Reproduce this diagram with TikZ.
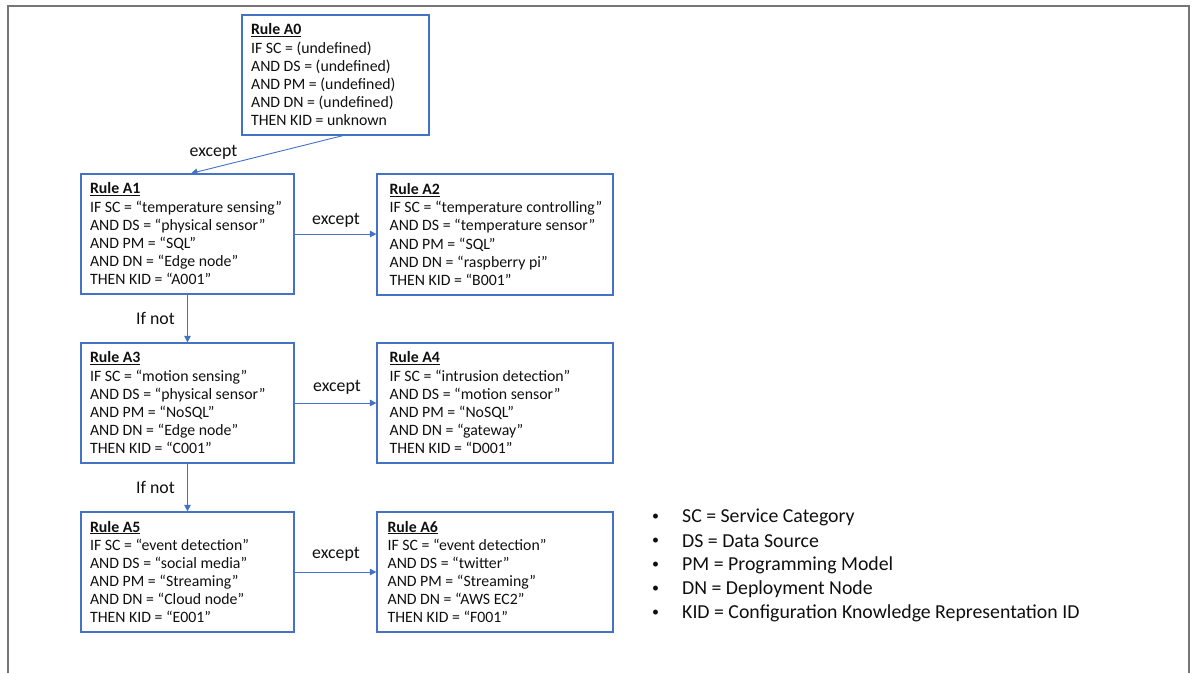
\documentclass[tikz,border=0pt]{standalone}
\usepackage{fontspec}
\setmainfont{Carlito}
\usetikzlibrary{arrows.meta}

\definecolor{officeblue}{RGB}{68,114,196}
\definecolor{framegray}{RGB}{118,118,118}
\definecolor{textblack}{RGB}{15,15,15}

\tikzset{
  rulebox/.style={draw=officeblue, line width=1.2pt, rectangle, inner sep=0pt},
  ruletext/.style={anchor=west, align=left, inner sep=0pt, text=textblack,
    font=\fontsize{15.8}{18.2}\selectfont},
  arr/.style={draw=officeblue, line width=0.9pt,
    -{Triangle[width=6.5pt,length=6.5pt]}},
  edgelabel/.style={inner sep=0pt, text=textblack,
    font=\fontsize{17.8}{20}\selectfont},
  legendtext/.style={anchor=west, inner sep=0pt, text=textblack,
    font=\fontsize{19.8}{23}\selectfont},
  bulletmark/.style={inner sep=0pt, text=textblack,
    font=\fontsize{14}{16}\selectfont},
  frame/.style={draw=framegray, line width=2pt}
}

\newcommand{\ruletitle}[1]{\underline{\textbf{#1}}}

\begin{document}
\begin{tikzpicture}[x=1pt, y=-1pt]
  \useasboundingbox (0,0) rectangle (1192,673);

  % open frame around the figure
  \draw[frame] (8,673) -- (8,6) -- (1189,6) -- (1189,673);

  % rule boxes
  \node[rulebox, minimum width=187pt, minimum height=120pt] (a0) at (335.5,75) {};
  \node[rulebox, minimum width=213pt, minimum height=120pt] (a1) at (187.5,234) {};
  \node[rulebox, minimum width=236pt, minimum height=121pt] (a2) at (495,234.5) {};
  \node[rulebox, minimum width=213pt, minimum height=120pt] (a3) at (187.5,403) {};
  \node[rulebox, minimum width=236pt, minimum height=120pt] (a4) at (495,403) {};
  \node[rulebox, minimum width=213pt, minimum height=120pt] (a5) at (187.5,572) {};
  \node[rulebox, minimum width=236pt, minimum height=120pt] (a6) at (495,572) {};

  % rule texts
  \node[ruletext] (t0) at ([xshift=9.5pt]a0.west) {\ruletitle{Rule A0}\\
    IF SC = (undefined)\\
    AND DS = (undefined)\\
    AND PM = (undefined)\\
    AND DN = (undefined)\\
    THEN KID = unknown};
  \node[ruletext] (t1) at ([xshift=9.5pt]a1.west) {\ruletitle{Rule A1}\\
    IF SC = “temperature sensing”\\
    AND DS = “physical sensor”\\
    AND PM = “SQL”\\
    AND DN = “Edge node”\\
    THEN KID = “A001”};
  \node[ruletext] (t2) at ([xshift=13pt]a2.west) {\ruletitle{Rule A2}\\
    IF SC = “temperature controlling”\\
    AND DS = “temperature sensor”\\
    AND PM = “SQL”\\
    AND DN = “raspberry pi”\\
    THEN KID = “B001”};
  \node[ruletext] (t3) at ([xshift=9.5pt]a3.west) {\ruletitle{Rule A3}\\
    IF SC = “motion sensing”\\
    AND DS = “physical sensor”\\
    AND PM = “NoSQL”\\
    AND DN = “Edge node”\\
    THEN KID = “C001”};
  \node[ruletext] (t4) at ([xshift=13pt]a4.west) {\ruletitle{Rule A4}\\
    IF SC = “intrusion detection”\\
    AND DS = “motion sensor”\\
    AND PM = “NoSQL”\\
    AND DN = “gateway”\\
    THEN KID = “D001”};
  \node[ruletext] (t5) at ([xshift=9.5pt]a5.west) {\ruletitle{Rule A5}\\
    IF SC = “event detection”\\
    AND DS = “social media”\\
    AND PM = “Streaming”\\
    AND DN = “Cloud node”\\
    THEN KID = “E001”};
  \node[ruletext] (t6) at ([xshift=11pt]a6.west) {\ruletitle{Rule A6}\\
    IF SC = “event detection”\\
    AND DS = “twitter”\\
    AND PM = “Streaming”\\
    AND DN = “AWS EC2”\\
    THEN KID = “F001”};

  % connectors
  \draw[arr] ([xshift=7.5pt]a0.south) -- ([xshift=3.5pt]a1.north);
  \draw[arr] (a1.east) -- (a1.east -| a2.west);
  \draw[arr] (a1.south) -- (a3.north);
  \draw[arr] (a3.east) -- (a4.west);
  \draw[arr] (a3.south) -- (a5.north);
  \draw[arr] (a5.east) -- (a6.west);

  % connector labels
  \node[edgelabel] (l0) at (213.5,152) {except};
  \node[edgelabel] (l1) at (336,220) {except};
  \node[edgelabel] (l2) at (155.5,318) {If not};
  \node[edgelabel] (l3) at (337,387) {except};
  \node[edgelabel] (l4) at (155.5,487) {If not};
  \node[edgelabel] (l5) at (336,554) {except};

  % abbreviations
  \foreach \y/\txt [count=\i] in {517/SC = Service Category,
      541/DS = Data Source,
      565/PM = Programming Model,
      589/DN = Deployment Node,
      613/KID = Configuration Knowledge Representation ID} {
    \node[bulletmark] (b\i) at (655.5,\y) {•};
    \node[legendtext] (k\i) at (682,\y) {\txt};
  }
\end{tikzpicture}
\end{document}
